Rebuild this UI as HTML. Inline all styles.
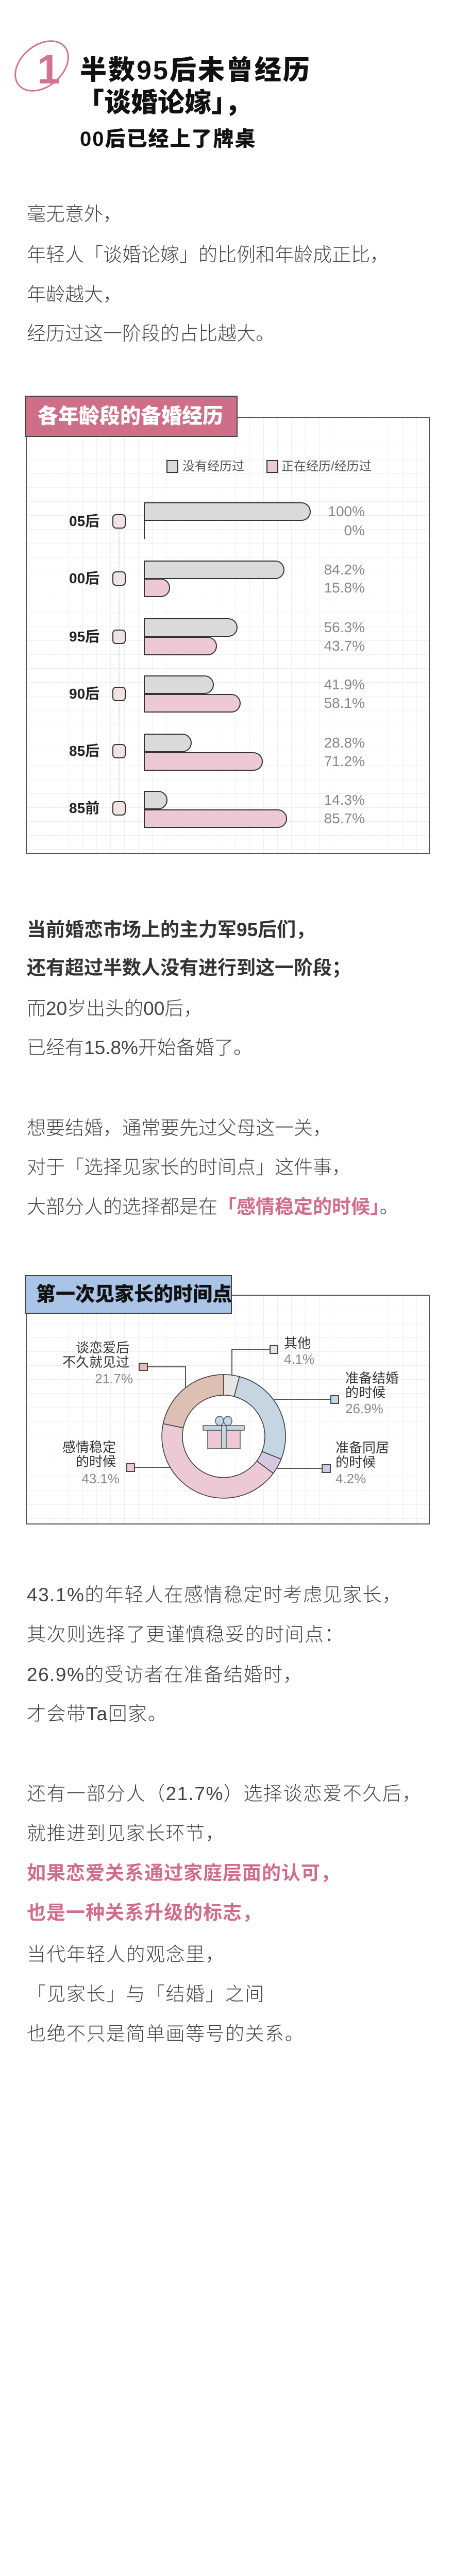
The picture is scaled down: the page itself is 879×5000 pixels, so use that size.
<!DOCTYPE html>
<html><head><meta charset="utf-8">
<style>
*{margin:0;padding:0;box-sizing:border-box}
body{width:879px;height:5000px;background:#fff;position:relative;overflow:hidden;font-family:"Liberation Sans","Noto Sans CJK SC",sans-serif}
.a{position:absolute;white-space:nowrap}
.t{font-size:37px;color:#444;line-height:50px;font-weight:300;left:52px}
.t2{font-size:37px;color:#444;line-height:50px;font-weight:300;left:52px;letter-spacing:1.5px}
.b{font-weight:700;color:#333}
.p{color:#d06d8c;font-weight:700}
.box{position:absolute;border:2px solid #555;background-color:#fff;background-image:linear-gradient(#eee 1px,transparent 1px),linear-gradient(90deg,#eee 1px,transparent 1px);background-size:27px 27px}
.bar{position:absolute;height:36px;border:2px solid #333;border-radius:0 18px 18px 0;left:279px}
.g{background:#dadada}.k{background:#ecc9d5}
.lab{font-size:28px;font-weight:700;color:#222;line-height:30px;left:134px}
.sq{position:absolute;left:218px;width:26px;height:28px;border:2.5px solid #333;border-radius:7px;background:#efe3e3}
.pc{font-size:28px;color:#888;line-height:30px;right:171px;text-align:right;font-weight:300}
.dl{font-size:26px;color:#333;line-height:28px}
.dp{font-size:26px;color:#888;line-height:30px;font-weight:300}
</style></head><body>

<svg class="a" style="left:20px;top:78px" width="125" height="105" viewBox="0 0 125 105">
<ellipse cx="61" cy="50" rx="58" ry="40" transform="rotate(-40 61 50)" fill="none" stroke="#d2748f" stroke-width="3"/>
<text x="52" y="84" font-family="Liberation Sans" font-weight="700" font-size="80" fill="#d2748f">1</text>
</svg>
<div class="a" style="left:155px;top:105px;font-size:52px;font-weight:900;line-height:64px;color:#111;letter-spacing:3px">半数95后未曾经历</div>
<div class="a" style="left:150px;top:168px;font-size:52px;font-weight:900;line-height:64px;color:#111">「谈婚论嫁」，</div>
<div class="a" style="left:155px;top:245px;font-size:40px;font-weight:900;line-height:50px;color:#111;letter-spacing:2px">00后已经上了牌桌</div>

<div class="a t" style="top:391px">毫无意外，</div>
<div class="a t" style="top:470px">年轻人「谈婚论嫁」的比例和年龄成正比，</div>
<div class="a t" style="top:547px">年龄越大，</div>
<div class="a t" style="top:623px">经历过这一阶段的占比越大。</div>

<!-- chart 1 -->
<div class="box" style="left:50px;top:809px;width:784px;height:849px"></div>
<div class="a" style="left:48px;top:768px;width:413px;height:80px;background:#cf6e89;border:2px solid #444"></div>
<div class="a" style="left:73px;top:781px;font-size:40px;font-weight:900;color:#fff;line-height:54px">各年龄段的备婚经历</div>
<div class="a" style="left:323px;top:893px;width:23px;height:25px;background:#dadada;border:2px solid #333"></div>
<div class="a" style="left:354px;top:891px;font-size:24px;color:#555;line-height:30px">没有经历过</div>
<div class="a" style="left:517px;top:893px;width:23px;height:25px;background:#ecc9d5;border:2px solid #333"></div>
<div class="a" style="left:546px;top:891px;font-size:24px;color:#555;line-height:30px">正在经历/经历过</div>
<div class="a" style="left:230px;top:1020px;height:550px;border-left:2px dotted #ccc"></div>

<div class="a lab" style="top:997px">05后</div><div class="sq" style="top:998px"></div>
<div class="bar g" style="top:975px;width:324px"></div>
<div class="a" style="left:279px;top:975px;width:2px;height:71px;background:#333"></div>
<div class="a pc" style="top:978px">100%</div><div class="a pc" style="top:1015px">0%</div>

<div class="a lab" style="top:1108px">00后</div><div class="sq" style="top:1109px"></div>
<div class="bar g" style="top:1088px;width:273px"></div>
<div class="bar k" style="top:1123px;width:51px"></div>
<div class="a pc" style="top:1091px">84.2%</div><div class="a pc" style="top:1126px">15.8%</div>

<div class="a lab" style="top:1221px">95后</div><div class="sq" style="top:1222px"></div>
<div class="bar g" style="top:1200px;width:182px"></div>
<div class="bar k" style="top:1236px;width:142px"></div>
<div class="a pc" style="top:1203px">56.3%</div><div class="a pc" style="top:1239px">43.7%</div>

<div class="a lab" style="top:1332px">90后</div><div class="sq" style="top:1333px"></div>
<div class="bar g" style="top:1311px;width:136px"></div>
<div class="bar k" style="top:1347px;width:188px"></div>
<div class="a pc" style="top:1314px">41.9%</div><div class="a pc" style="top:1350px">58.1%</div>

<div class="a lab" style="top:1443px">85后</div><div class="sq" style="top:1444px"></div>
<div class="bar g" style="top:1424px;width:93px"></div>
<div class="bar k" style="top:1460px;width:231px"></div>
<div class="a pc" style="top:1427px">28.8%</div><div class="a pc" style="top:1463px">71.2%</div>

<div class="a lab" style="top:1554px">85前</div><div class="sq" style="top:1555px"></div>
<div class="bar g" style="top:1535px;width:46px"></div>
<div class="bar k" style="top:1571px;width:278px"></div>
<div class="a pc" style="top:1538px">14.3%</div><div class="a pc" style="top:1574px">85.7%</div>

<div class="a t b" style="top:1780px">当前婚恋市场上的主力军95后们，</div>
<div class="a t b" style="top:1854px">还有超过半数人没有进行到这一阶段；</div>
<div class="a t" style="top:1933px">而20岁出头的00后，</div>
<div class="a t" style="top:2009px">已经有15.8%开始备婚了。</div>
<div class="a t" style="top:2165px">想要结婚，通常要先过父母这一关，</div>
<div class="a t" style="top:2241px">对于「选择见家长的时间点」这件事，</div>
<div class="a t" style="top:2318px">大部分人的选择都是在<span class="p">「感情稳定的时候」</span>。</div>

<!-- chart 2 -->
<div class="box" style="left:50px;top:2513px;width:784px;height:446px"></div>
<div class="a" style="left:48px;top:2475px;width:402px;height:75px;background:#a9c4e6;border:2px solid #444"></div>
<div class="a" style="left:70px;top:2488px;font-size:38px;font-weight:900;color:#111;line-height:50px">第一次见家长的时间点</div>

<svg class="a" style="left:0;top:0" width="879" height="3000">
<g transform="translate(434,2788)" stroke="#333" stroke-width="1.5">
<path d="M0,-120 A120,120 0 0 1 30.6,-116 L20.4,-77.4 A80,80 0 0 0 0,-80 Z" fill="#e6e6e6"/>
<path d="M30.6,-116 A120,120 0 0 1 111.6,44.2 L74.4,29.4 A80,80 0 0 0 20.4,-77.4 Z" fill="#c5d5e2"/>
<path d="M111.6,44.2 A120,120 0 0 1 96.2,71.7 L64.1,47.8 A80,80 0 0 0 74.4,29.4 Z" fill="#d4c8e0"/>
<path d="M96.2,71.7 A120,120 0 0 1 -117.4,-24.7 L-78.3,-16.5 A80,80 0 0 0 64.1,47.8 Z" fill="#ecc9d5"/>
<path d="M-117.4,-24.7 A120,120 0 0 1 0,-120 L0,-80 A80,80 0 0 0 -78.3,-16.5 Z" fill="#ddbfb4"/>
</g>
<g stroke="#555" stroke-width="2" fill="none">
<polyline points="524,2619 450,2619 450,2670"/>
<polyline points="286,2653 360,2653 360,2694"/>
<line x1="532" y1="2716" x2="642" y2="2716"/>
<line x1="535" y1="2850" x2="625" y2="2850"/>
<line x1="261" y1="2848" x2="330" y2="2848"/>
</g>
<g stroke="#444" stroke-width="2">
<rect x="524" y="2612" width="15" height="15" fill="#e6e6e6"/>
<rect x="270" y="2646" width="16" height="14" fill="#ddbfb4"/>
<rect x="642" y="2709" width="15" height="15" fill="#c5d5e2"/>
<rect x="625" y="2843" width="16" height="15" fill="#d4c8e0"/>
<rect x="246" y="2841" width="15" height="15" fill="#ecc9d5"/>
</g>
<g stroke="#555" stroke-width="1.5">
<ellipse cx="426" cy="2758" rx="8" ry="9" fill="#c5d5e2"/>
<ellipse cx="442" cy="2758" rx="8" ry="9" fill="#c5d5e2"/>
<rect x="403" y="2776" width="63" height="36" fill="#ecc9d5"/>
<rect x="394" y="2767" width="80" height="9" fill="#c5d5e2"/>
<rect x="430" y="2767" width="9" height="45" fill="#c5d5e2"/>
</g>
</svg>
<div class="a dl" style="left:551px;top:2593px">其他</div>
<div class="a dp" style="left:551px;top:2623px">4.1%</div>
<div class="a dl" style="left:670px;top:2661px">准备结婚<br>的时候</div>
<div class="a dp" style="left:670px;top:2719px">26.9%</div>
<div class="a dl" style="left:651px;top:2796px">准备同居<br>的时候</div>
<div class="a dp" style="left:651px;top:2855px">4.2%</div>
<div class="a dl" style="right:628px;top:2602px;text-align:right">谈恋爱后<br>不久就见过</div>
<div class="a dp" style="right:621px;top:2661px">21.7%</div>
<div class="a dl" style="right:654px;top:2795px;text-align:right">感情稳定<br>的时候</div>
<div class="a dp" style="right:647px;top:2855px">43.1%</div>

<div class="a t2" style="top:3071px">43.1%的年轻人在感情稳定时考虑见家长，</div>
<div class="a t2" style="top:3148px">其次则选择了更谨慎稳妥的时间点：</div>
<div class="a t2" style="top:3226px">26.9%的受访者在准备结婚时，</div>
<div class="a t2" style="top:3302px">才会带Ta回家。</div>
<div class="a t2" style="top:3457px">还有一部分人（21.7%）选择谈恋爱不久后，</div>
<div class="a t2" style="top:3534px">就推进到见家长环节，</div>
<div class="a t2 p" style="top:3611px;letter-spacing:1px">如果恋爱关系通过家庭层面的认可，</div>
<div class="a t2 p" style="top:3688px;letter-spacing:1px">也是一种关系升级的标志，</div>
<div class="a t2" style="top:3769px">当代年轻人的观念里，</div>
<div class="a t2" style="top:3846px">「见家长」与「结婚」之间</div>
<div class="a t2" style="top:3923px">也绝不只是简单画等号的关系。</div>
</body></html>
